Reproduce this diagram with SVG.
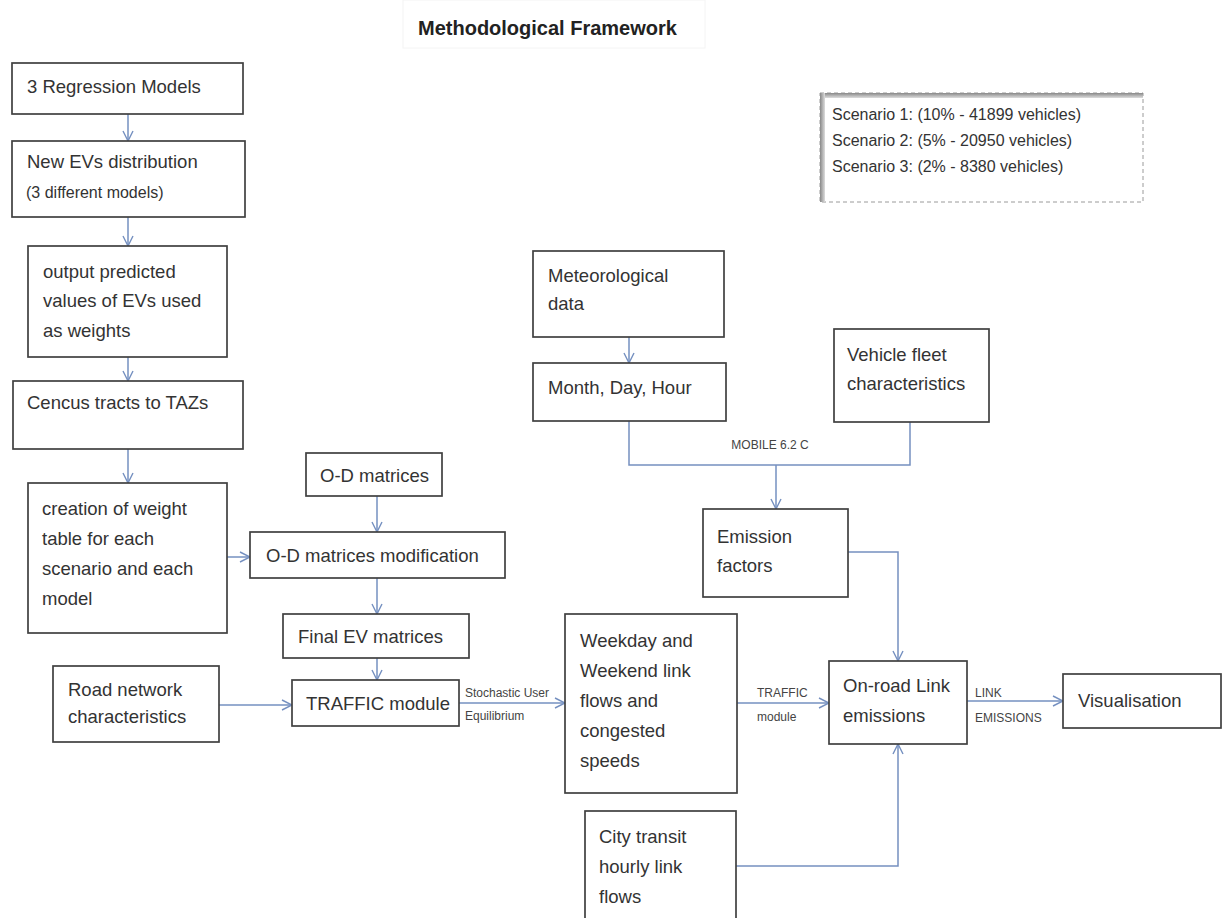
<svg xmlns="http://www.w3.org/2000/svg" width="1225" height="918" viewBox="0 0 1225 918">
<style>
.box{fill:#ffffff;stroke:#404040;stroke-width:1.7}
.t{font-family:"Liberation Sans",Arial,sans-serif;font-size:18.5px;fill:#333333}
.s{font-family:"Liberation Sans",Arial,sans-serif;font-size:16px;fill:#333333}
.lab{font-family:"Liberation Sans",Arial,sans-serif;font-size:12px;fill:#444444}
.title{font-family:"Liberation Sans",Arial,sans-serif;font-size:20px;font-weight:bold;fill:#222222}
.sc{font-family:"Liberation Sans",Arial,sans-serif;font-size:16px;fill:#333333}
.c{fill:none;stroke:#7590c0;stroke-width:1.5}
.ca{fill:none;stroke:#7590c0;stroke-width:1.5;marker-end:url(#arr)}
</style>
<defs>
<marker id="arr" viewBox="0 0 12 12" refX="11" refY="6" markerWidth="12" markerHeight="12" markerUnits="userSpaceOnUse" orient="auto">
<path d="M1,1 L11,6 L1,11" fill="none" stroke="#7590c0" stroke-width="1.4"/>
</marker>
<linearGradient id="shT" x1="0" y1="0" x2="0" y2="1"><stop offset="0" stop-color="#888888"/><stop offset="1" stop-color="#dddddd"/></linearGradient>
<linearGradient id="shL" x1="0" y1="0" x2="1" y2="0"><stop offset="0" stop-color="#888888"/><stop offset="1" stop-color="#dddddd"/></linearGradient>
</defs>
<rect width="1225" height="918" fill="#ffffff"/>

<g id="title">
<rect x="403" y="0" width="302" height="48" fill="none" stroke="#f4f4f4" stroke-width="1"/>
<text class="title" x="418" y="35">Methodological Framework</text>
</g>

<g id="scenarios">
<rect x="820" y="93" width="323" height="109" fill="#ffffff" stroke="#9a9a9a" stroke-width="1" stroke-dasharray="4,3"/>
<rect x="820" y="93" width="323" height="5" fill="url(#shT)"/>
<rect x="820" y="93" width="5" height="109" fill="url(#shL)"/>
<text class="sc" x="832" y="120">Scenario 1: (10% - 41899 vehicles)</text>
<text class="sc" x="832" y="146">Scenario 2: (5% - 20950 vehicles)</text>
<text class="sc" x="832" y="172">Scenario 3: (2% - 8380 vehicles)</text>
</g>

<g id="connectors">
<line class="ca" x1="128" y1="114" x2="128" y2="141"/>
<line class="ca" x1="128" y1="217" x2="128" y2="246"/>
<line class="ca" x1="128" y1="357" x2="128" y2="381"/>
<line class="ca" x1="128" y1="449" x2="128" y2="483"/>
<line class="ca" x1="227" y1="557" x2="250" y2="557"/>
<line class="ca" x1="377" y1="496" x2="377" y2="532"/>
<line class="ca" x1="377" y1="578" x2="377" y2="614"/>
<line class="ca" x1="377" y1="658" x2="377" y2="680"/>
<line class="ca" x1="219" y1="705" x2="292" y2="705"/>
<line class="ca" x1="459" y1="703" x2="565" y2="703"/>
<line class="ca" x1="737" y1="703" x2="829" y2="703"/>
<line class="ca" x1="967" y1="701" x2="1063" y2="701"/>
<line class="ca" x1="629" y1="337" x2="629" y2="363"/>
<polyline class="c" points="629,421 629,465 910,465 910,422"/>
<line class="ca" x1="776" y1="465" x2="776" y2="509"/>
<polyline class="ca" points="848,552 898,552 898,661"/>
<polyline class="ca" points="736,866 898,866 898,744"/>
<text class="lab" x="465" y="697">Stochastic User</text>
<text class="lab" x="465" y="720">Equilibrium</text>
<text class="lab" x="757" y="697">TRAFFIC</text>
<text class="lab" x="757" y="721">module</text>
<text class="lab" x="975" y="697">LINK</text>
<text class="lab" x="975" y="722">EMISSIONS</text>
<text class="lab" x="770" y="449" text-anchor="middle">MOBILE 6.2 C</text>
</g>

<g id="n-regression">
<rect class="box" x="12" y="63" width="231" height="51"/>
<text class="t" x="27" y="93">3 Regression Models</text>
</g>
<g id="n-newevs">
<rect class="box" x="12" y="141" width="233" height="76"/>
<text class="t" x="27" y="168">New EVs distribution</text>
<text class="s" x="26" y="198">(3 different models)</text>
</g>
<g id="n-output">
<rect class="box" x="28" y="246" width="199" height="111"/>
<text class="t" x="43" y="278">output predicted</text>
<text class="t" x="43" y="307">values of EVs used</text>
<text class="t" x="43" y="337">as weights</text>
</g>
<g id="n-census">
<rect class="box" x="13" y="381" width="230" height="68"/>
<text class="t" x="27" y="409">Cencus tracts to TAZs</text>
</g>
<g id="n-weight">
<rect class="box" x="28" y="483" width="199" height="150"/>
<text class="t" x="42" y="515">creation of weight</text>
<text class="t" x="42" y="545">table for each</text>
<text class="t" x="42" y="575">scenario and each</text>
<text class="t" x="42" y="605">model</text>
</g>
<g id="n-od">
<rect class="box" x="306" y="453" width="136" height="43"/>
<text class="t" x="320" y="482">O-D matrices</text>
</g>
<g id="n-odmod">
<rect class="box" x="250" y="532" width="255" height="46"/>
<text class="t" x="266" y="562">O-D matrices modification</text>
</g>
<g id="n-finalev">
<rect class="box" x="283" y="614" width="186" height="44"/>
<text class="t" x="298" y="643">Final EV matrices</text>
</g>
<g id="n-road">
<rect class="box" x="53" y="666" width="166" height="76"/>
<text class="t" x="68" y="696">Road network</text>
<text class="t" x="68" y="723">characteristics</text>
</g>
<g id="n-traffic">
<rect class="box" x="292" y="680" width="167" height="46"/>
<text class="t" x="306" y="710">TRAFFIC module</text>
</g>
<g id="n-weekday">
<rect class="box" x="565" y="614" width="172" height="179"/>
<text class="t" x="580" y="647">Weekday and</text>
<text class="t" x="580" y="677">Weekend link</text>
<text class="t" x="580" y="707">flows and</text>
<text class="t" x="580" y="737">congested</text>
<text class="t" x="580" y="767">speeds</text>
</g>
<g id="n-city">
<rect class="box" x="585" y="811" width="151" height="115"/>
<text class="t" x="599" y="843">City transit</text>
<text class="t" x="599" y="873">hourly link</text>
<text class="t" x="599" y="903">flows</text>
</g>
<g id="n-meteo">
<rect class="box" x="533" y="251" width="191" height="86"/>
<text class="t" x="548" y="282">Meteorological</text>
<text class="t" x="548" y="310">data</text>
</g>
<g id="n-month">
<rect class="box" x="533" y="363" width="193" height="58"/>
<text class="t" x="548" y="394">Month, Day, Hour</text>
</g>
<g id="n-fleet">
<rect class="box" x="834" y="329" width="155" height="93"/>
<text class="t" x="847" y="361">Vehicle fleet</text>
<text class="t" x="847" y="390">characteristics</text>
</g>
<g id="n-emission">
<rect class="box" x="703" y="509" width="145" height="88"/>
<text class="t" x="717" y="543">Emission</text>
<text class="t" x="717" y="572">factors</text>
</g>
<g id="n-onroad">
<rect class="box" x="829" y="661" width="138" height="83"/>
<text class="t" x="843" y="692">On-road Link</text>
<text class="t" x="843" y="722">emissions</text>
</g>
<g id="n-visual">
<rect class="box" x="1063" y="674" width="158" height="54"/>
<text class="t" x="1078" y="707">Visualisation</text>
</g>
</svg>
